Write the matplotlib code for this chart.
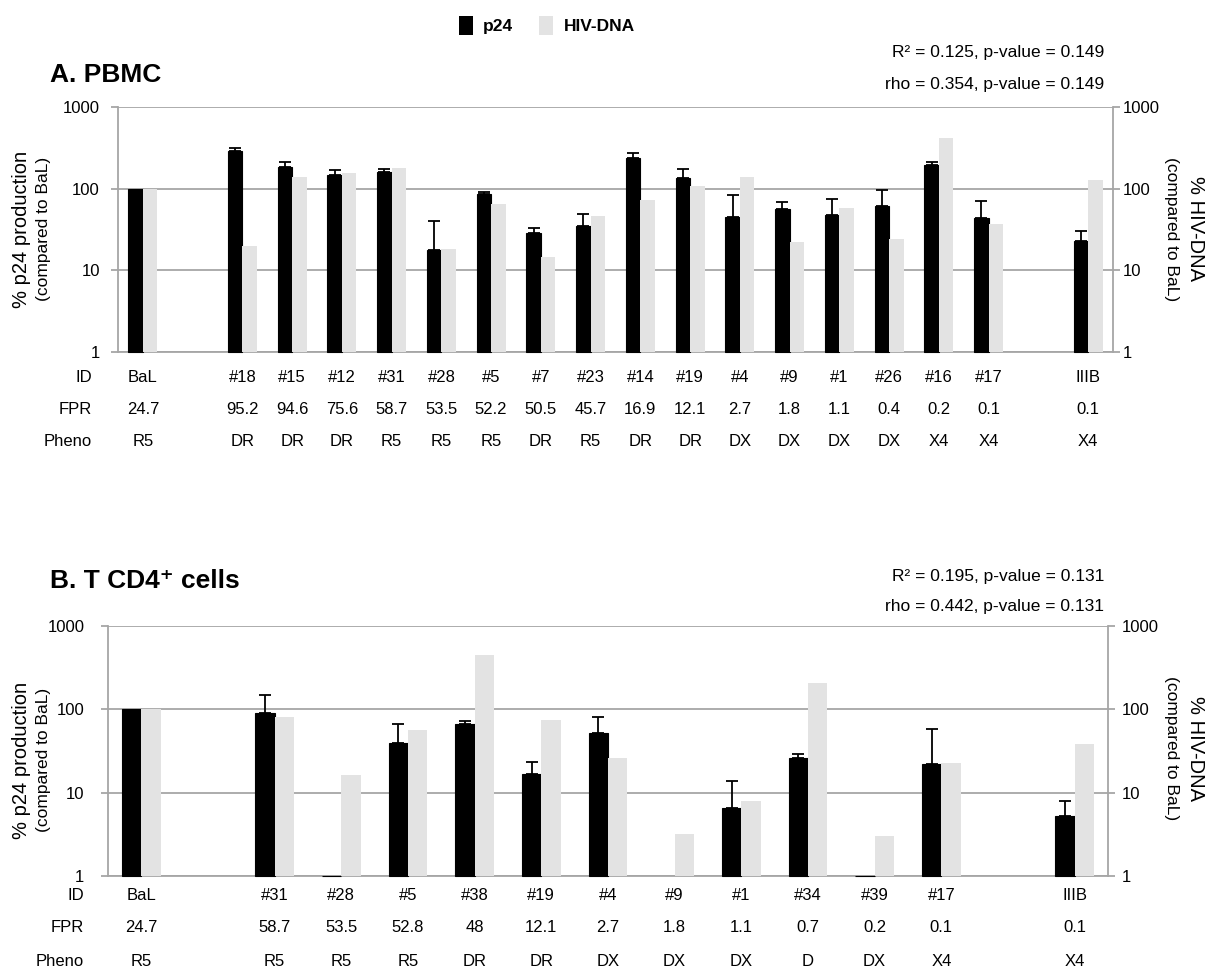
"""
Percent p24 production and HIV-DNA relative to BaL, PBMC and T CD4+ cells.
"""

import numpy as np
import matplotlib
matplotlib.use("Agg")
import matplotlib.pyplot as plt
from matplotlib import transforms
from matplotlib.patches import Patch
from matplotlib.ticker import NullLocator

plt.rcParams['font.family'] = ['Liberation Sans', 'DejaVu Sans']

# ---- A. PBMC ----
pbmc_ids = ["BaL", "#18", "#15", "#12", "#31", "#28", "#5", "#7", "#23", "#14",
            "#19", "#4", "#9", "#1", "#26", "#16", "#17", "IIIB"]
pbmc_fpr = ["24.7", "95.2", "94.6", "75.6", "58.7", "53.5", "52.2", "50.5", "45.7",
            "16.9", "12.1", "2.7", "1.8", "1.1", "0.4", "0.2", "0.1", "0.1"]
pbmc_pheno = ["R5", "DR", "DR", "DR", "R5", "R5", "R5", "DR", "R5", "DR", "DR",
              "DX", "DX", "DX", "DX", "X4", "X4", "X4"]
pbmc_p24 = [100, 289, 184, 147, 161, 17.7, 85, 28.4, 35, 240, 134, 44.6, 56, 47,
            61, 193, 43.8, 22.7]
pbmc_p24_top = [100, 316, 212, 168, 176, 40, 91, 33, 49, 271, 172, 84, 68, 75,
                96, 214, 71, 30]
pbmc_dna = [100, 20, 138, 155, 181, 18.2, 64, 14.7, 46.7, 73, 108, 138, 22.4, 58,
            24.4, 417, 37, 128]
pbmc_slots = [0] + list(range(2, 18)) + [19]

# ---- B. T CD4+ cells ----
cd4_ids = ["BaL", "#31", "#28", "#5", "#38", "#19", "#4", "#9", "#1", "#34", "#39",
           "#17", "IIIB"]
cd4_fpr = ["24.7", "58.7", "53.5", "52.8", "48", "12.1", "2.7", "1.8", "1.1", "0.7",
           "0.2", "0.1", "0.1"]
cd4_pheno = ["R5", "R5", "R5", "R5", "DR", "DR", "DX", "DX", "DX", "D", "DX", "X4", "X4"]
cd4_p24 = [100, 90, 1, 39, 67, 16.9, 52.6, np.nan, 6.55, 25.9, 1, 22.1, 5.3]
cd4_p24_top = [100, 149, 1, 67, 72.6, 23.4, 80, np.nan, 13.9, 29.4, 1, 58, 7.9]
cd4_dna = [100, 81, 16.3, 56.6, 446, 75, 26, 3.16, 7.9, 206, 3.0, 22.7, 38.5]
cd4_slots = [0] + list(range(2, 13)) + [14]

W, H = 1210, 974
GRID = '#a6a6a6'
LIGHT = '#e3e3e3'

fig = plt.figure(figsize=(W / 100, H / 100), dpi=100)


def painel(box, slots, nslots, ids, fpr, pheno, p24, p24_top, dna,
           rows_y, rows_x, lpad, rpad):
    """Desenha um painel (eixos em pixels: esquerda, topo, direita, base)."""
    x0, y0, x1, y1 = box
    ax = fig.add_axes([x0 / W, 1 - y1 / H, (x1 - x0) / W, (y1 - y0) / H])
    ax.set_yscale('log')
    ax.set_ylim(1, 1000)
    ax.set_xlim(-0.5, nslots - 0.5)

    x = np.array(slots, dtype=float)
    p24 = np.array(p24, dtype=float)
    top = np.array(p24_top, dtype=float)
    dna = np.array(dna, dtype=float)
    w = 0.29

    ok = ~np.isnan(p24)
    ax.bar(x[ok] - w / 2, p24[ok] - 1, bottom=1, width=w, color='black',
           edgecolor='black', linewidth=0.8, zorder=3, clip_on=False)
    ax.bar(x + w / 2, dna - 1, bottom=1, width=w, color=LIGHT, linewidth=0, zorder=3)

    err = top - p24
    m = ok & (err > 0)
    ax.errorbar(x[m] - w / 2, p24[m], yerr=[np.zeros(m.sum()), err[m]], fmt='none',
                ecolor='black', elinewidth=1.3, capsize=4, capthick=1.3, zorder=4)

    ax.yaxis.grid(True, color=GRID, linewidth=1.3)
    ax.set_axisbelow(True)
    ax.spines['top'].set_visible(False)
    for s in ['left', 'right', 'bottom']:
        ax.spines[s].set_color(GRID)
        ax.spines[s].set_linewidth(1.3)
    ticks = [1, 10, 100, 1000]
    ax.set_yticks(ticks)
    ax.set_yticklabels([str(t) for t in ticks])
    ax.yaxis.set_minor_locator(NullLocator())
    ax.tick_params(axis='y', length=5, width=1.3, color=GRID, labelsize=12, pad=lpad)
    ax.tick_params(axis='x', bottom=False, labelbottom=False)

    ax2 = ax.twinx()
    ax2.set_yscale('log')
    ax2.set_ylim(1, 1000)
    ax2.set_yticks(ticks)
    ax2.set_yticklabels([str(t) for t in ticks])
    ax2.yaxis.set_minor_locator(NullLocator())
    ax2.tick_params(axis='y', length=5, width=1.3, color=GRID, labelsize=12, pad=rpad)
    for s in ax2.spines.values():
        s.set_visible(False)

    # linhas ID / FPR / Pheno abaixo do eixo
    trans = transforms.blended_transform_factory(ax.transData, fig.transFigure)
    for nome, vals, py in zip(["ID", "FPR", "Pheno"], [ids, fpr, pheno], rows_y):
        fig.text(rows_x / W, 1 - py / H, nome, ha='right', va='center', fontsize=12)
        for xi, v in zip(x, vals):
            ax.text(xi, 1 - py / H, v, transform=trans, ha='center', va='center',
                    fontsize=12)
    return ax


painel((118, 107, 1113, 352), pbmc_slots, 20, pbmc_ids, pbmc_fpr, pbmc_pheno,
       pbmc_p24, pbmc_p24_top, pbmc_dna, [378, 410, 442], 92, 8, 2)
painel((108, 626, 1108, 876), cd4_slots, 15, cd4_ids, cd4_fpr, cd4_pheno,
       cd4_p24, cd4_p24_top, cd4_dna, [896, 928, 961], 84, 12, 5)

# títulos dos painéis
fig.text(50 / W, 1 - 75 / H, "A. PBMC", fontsize=19, fontweight='bold', va='center')
fig.text(50 / W, 1 - 581 / H, "B. T CD4\u207a cells", fontsize=19, fontweight='bold',
         va='center')

# estatísticas
for txt, py in [("R\u00b2 = 0.125, p-value = 0.149", 52),
                ("rho = 0.354, p-value = 0.149", 85),
                ("R\u00b2 = 0.195, p-value = 0.131", 576),
                ("rho = 0.442, p-value = 0.131", 607)]:
    fig.text(1104 / W, 1 - py / H, txt, ha='right', va='center', fontsize=12.5)

# rótulos dos eixos
for cy_l, cy_r in [(229, 229), (760, 748)]:
    fig.text(22 / W, 1 - cy_l / H, "% p24 production", rotation=90, ha='center',
             va='center', fontsize=14.5)
    fig.text(44 / W, 1 - cy_l / H, "(compared to BaL)", rotation=90, ha='center',
             va='center', fontsize=12.5)
    fig.text(1196 / W, 1 - cy_r / H, "% HIV-DNA", rotation=270, ha='center',
             va='center', fontsize=14.5)
    fig.text(1172 / W, 1 - cy_r / H, "(compared to BaL)", rotation=270, ha='center',
             va='center', fontsize=12.5)

# legenda
handles = [Patch(facecolor='black', label='p24'),
           Patch(facecolor=LIGHT, label='HIV-DNA')]
fig.legend(handles=handles, loc='upper center', bbox_to_anchor=(0.452, 1.0), ncol=2,
           frameon=False, prop={'weight': 'bold', 'size': 12.5}, handlelength=0.8,
           handleheight=1.3, handletextpad=0.6, columnspacing=1.5)

fig.savefig("out.png", dpi=100)
